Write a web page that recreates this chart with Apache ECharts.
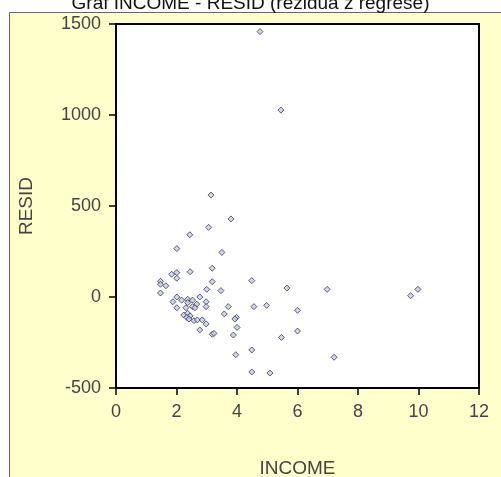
<!DOCTYPE html>
<html>
<head>
<meta charset="utf-8">
<script src="https://cdn.jsdelivr.net/npm/echarts@6/dist/echarts.min.js"></script>
<style>
html,body{margin:0;padding:0;background:#fff;}
#chart{width:501px;height:477px;}
</style>
</head>
<body>
<div id="chart"></div>
<script>
const titleText = 'Graf INCOME - RESID (rezidua z regrese)';
const xName = 'INCOME';
const yName = 'RESID';
const xTicks = [0, 2, 4, 6, 8, 10, 12];
const yTicks = [-500, 0, 500, 1000, 1500];
const income = [4.76,5.45,3.14,3.80,3.06,2.44,2.01,3.50,3.18,1.84,2.01,2.01,2.45,3.18,1.47,1.47,1.65,1.47,3.00,3.47,4.49,5.65,6.98,9.74,9.98,2.01,1.88,2.17,2.37,2.53,2.77,2.37,2.67,2.98,2.01,2.31,2.53,2.61,2.98,3.71,4.56,4.98,6.00,3.58,2.24,2.37,2.45,2.34,2.41,2.58,2.69,2.85,2.98,3.98,3.93,4.00,2.77,3.18,3.24,3.88,6.00,5.47,4.49,3.96,7.21,4.49,5.09];
const resid = [1458,1027,560,429,383,342,266,245,158,125,134,103,139,84,86,70,62,22,42,35,90,49,42,7,42,0,-26,-17,-13,-17,0,-31,-39,-26,-59,-59,-53,-59,-53,-53,-53,-46,-73,-93,-99,-90,-104,-112,-121,-130,-126,-126,-148,-112,-121,-167,-181,-205,-200,-209,-187,-222,-291,-317,-331,-412,-418];

const points = income.map((x, i) => [x, resid[i]]);
const font = '"Liberation Sans", Arial, sans-serif';
const chart = echarts.init(document.getElementById('chart'), null, {renderer: 'canvas'});
chart.setOption({
  animation: false,
  backgroundColor: '#ffffff',
  graphic: [{
    type: 'rect', z: -10, silent: true,
    shape: {x: 9.5, y: 12.5, width: 500, height: 470},
    style: {fill: '#FFFFCC', stroke: '#666', lineWidth: 1}
  }],
  title: {
    text: titleText, left: 'center', top: -11,
    textStyle: {fontFamily: font, fontSize: 19, fontWeight: 'normal', color: '#111'}
  },
  grid: {
    left: 116, top: 24, right: 22, bottom: 89,
    outerBoundsMode: 'none', containLabel: false,
    show: true, backgroundColor: '#ffffff', borderColor: '#000', borderWidth: 2
  },
  xAxis: {
    type: 'value', min: 0, max: 12, interval: 2,
    name: xName, nameLocation: 'middle', nameGap: 71,
    nameTextStyle: {fontFamily: font, fontSize: 19, color: '#444'},
    axisLine: {show: true, onZero: false, lineStyle: {color: '#000', width: 2}},
    axisTick: {show: true, length: 7, lineStyle: {color: '#000', width: 1.5}},
    axisLabel: {fontFamily: font, fontSize: 18, color: '#444', margin: 15,
      formatter: v => xTicks.includes(v) ? String(v) : ''},
    splitLine: {show: false}
  },
  yAxis: {
    type: 'value', min: -500, max: 1500, interval: 500,
    name: yName, nameLocation: 'middle', nameGap: 80, nameRotate: 90,
    nameTextStyle: {fontFamily: font, fontSize: 19, color: '#444'},
    axisLine: {show: true, onZero: false, lineStyle: {color: '#000', width: 2}},
    axisTick: {show: true, length: 7, lineStyle: {color: '#000', width: 1.5}},
    axisLabel: {fontFamily: font, fontSize: 18, color: '#444', margin: 15,
      formatter: v => yTicks.includes(v) ? String(v) : ''},
    splitLine: {show: false}
  },
  series: [{
    type: 'scatter',
    data: points,
    symbol: 'diamond',
    symbolSize: 6,
    itemStyle: {color: '#c8cce0', borderColor: '#333a5a', borderWidth: 1}
  }]
});
</script>
</body>
</html>
